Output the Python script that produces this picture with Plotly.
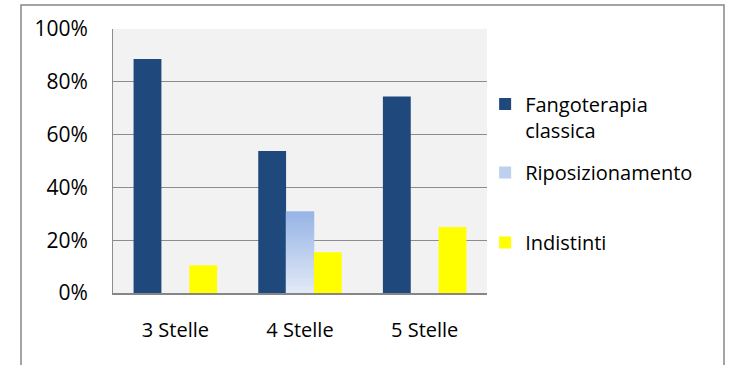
import plotly.graph_objects as go

# Share of treatments by hotel category
categories = ["3 Stelle", "4 Stelle", "5 Stelle"]
fangoterapia = [0.886, 0.538, 0.744]
riposizionamento = [0.0, 0.308, 0.0]
indistinti = [0.105, 0.154, 0.25]

series_names = ["Fangoterapia<br>classica", "Riposizionamento", "Indistinti"]
y_ticks = [0, 0.2, 0.4, 0.6, 0.8, 1.0]
y_tick_labels = ["0%", "20%", "40%", "60%", "80%", "100%"]

FONT = "Open Sans"
DARK_BLUE = "#1f497d"
GRAD_TOP = (150, 180, 230)
GRAD_BOTTOM = (228, 235, 247)
YELLOW = "#ffff00"


def mix(t):
    r, g, b = (round(GRAD_BOTTOM[i] + (GRAD_TOP[i] - GRAD_BOTTOM[i]) * t) for i in range(3))
    return f"rgb({r},{g},{b})"


fig = go.Figure()

fig.add_trace(go.Bar(
    x=categories, y=fangoterapia, name=series_names[0],
    marker=dict(color=DARK_BLUE, line=dict(width=0)),
    offsetgroup="g1", legend="legend",
))

fig.add_trace(go.Bar(
    x=categories, y=riposizionamento, name=series_names[1],
    marker=dict(color=mix(0.5), line=dict(width=0)),
    offsetgroup="g2", legend="legend2",
))

# vertical gradient for the Riposizionamento bars, built from thin slices
N = 40
gx, gbase, gy, gcol = [], [], [], []
for cat, v in zip(categories, riposizionamento):
    if v <= 0:
        continue
    for i in range(N):
        gx.append(cat)
        gbase.append(v * i / N)
        gy.append(v / N)
        gcol.append(mix((i + 0.5) / N))
fig.add_trace(go.Bar(
    x=gx, y=gy, base=gbase, showlegend=False, hoverinfo="skip",
    marker=dict(color=gcol, line=dict(color=gcol, width=0.6)),
    offsetgroup="g2",
))

fig.add_trace(go.Bar(
    x=categories, y=indistinti, name=series_names[2],
    marker=dict(color=YELLOW, line=dict(width=0)),
    offsetgroup="g3", legend="legend3",
))

legend_common = dict(
    xanchor="left", yanchor="top", x=0.995,
    bgcolor="rgba(0,0,0,0)", borderwidth=0, valign="top",
    font=dict(family=FONT, size=20, color="#000000"),
)

# outer chart frame (left, top and right edges)
fx0, fx1 = (21 - 113) / 374, (724 - 113) / 374
fy1, fy0 = (292.5 - 5) / 263.5, (292.5 - 372) / 263.5
frame_path = f"M {fx0},{fy0} L {fx0},{fy1} L {fx1},{fy1} L {fx1},{fy0}"

fig.update_layout(
    width=729, height=365,
    margin=dict(l=113, r=242, t=29, b=72, pad=0),
    paper_bgcolor="white",
    plot_bgcolor="#f2f2f2",
    barmode="group",
    bargap=0.33,
    bargroupgap=0,
    font=dict(family=FONT, color="#000000"),
    legend=dict(y=0.79, **legend_common),
    legend2=dict(y=0.53, **legend_common),
    legend3=dict(y=0.265, **legend_common),
    xaxis=dict(
        showline=True, linecolor="#868686", linewidth=2,
        showgrid=False, ticks="", zeroline=False,
        tickfont=dict(family=FONT, size=20, color="#000000"),
        ticklabelstandoff=18,
    ),
    yaxis=dict(
        range=[0, 1], tickvals=y_ticks, ticktext=y_tick_labels,
        showgrid=True, gridcolor="#8c8c8c", gridwidth=1,
        showline=True, linecolor="#8c8c8c", linewidth=1,
        zeroline=False, ticks="",
        tickfont=dict(family=FONT, size=21, color="#000000"),
        ticklabelstandoff=20,
    ),
    shapes=[dict(
        type="path", xref="paper", yref="paper", path=frame_path,
        line=dict(color="#878787", width=1.5), layer="above",
    )],
)

fig.write_html("out.html")
